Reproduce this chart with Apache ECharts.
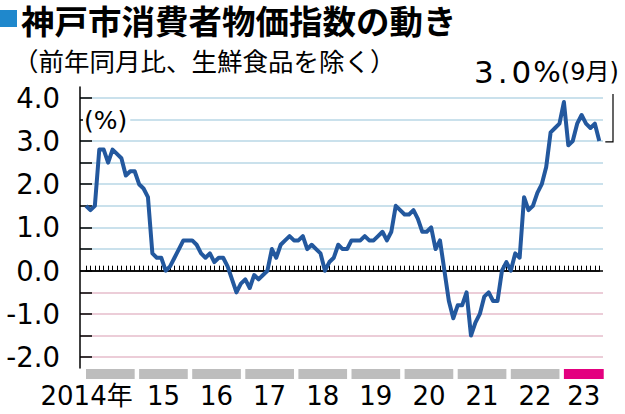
<!DOCTYPE html>
<html><head><meta charset="utf-8">
<script src="https://cdn.jsdelivr.net/npm/echarts/dist/echarts.min.js"></script>
<style>html,body{margin:0;padding:0;background:#fff}#c{width:625px;height:414px}</style>
</head><body><div id="c"></div>
<script>
// ---- data (core CPI, Kobe, % y/y, monthly) ----
const cpi2014 = [1.5,1.4,1.5,2.8,2.8,2.5,2.8,2.7,2.6,2.2,2.3,2.3];
const cpi2015 = [2.0,1.9,1.7,0.4,0.3,0.3,0.0,0.1,0.3,0.5,0.7,0.7];
const cpi2016 = [0.7,0.6,0.4,0.3,0.4,0.2,0.3,0.3,0.1,-0.2,-0.5,-0.3];
const cpi2017 = [-0.2,-0.4,-0.1,-0.2,-0.1,0.0,0.5,0.3,0.6,0.7,0.8,0.7];
const cpi2018 = [0.7,0.8,0.5,0.6,0.5,0.4,0.0,0.2,0.3,0.6,0.5,0.5];
const cpi2019 = [0.7,0.7,0.7,0.8,0.7,0.7,0.8,0.9,0.7,0.9,1.5,1.4];
const cpi2020 = [1.3,1.3,1.4,1.2,0.9,0.9,1.0,0.5,0.7,0.0,-0.7,-1.1];
const cpi2021 = [-0.8,-0.8,-0.5,-1.5,-1.2,-1.0,-0.6,-0.5,-0.7,-0.7,0.0,0.2];
const cpi2022 = [0.0,0.4,0.3,1.7,1.4,1.5,1.8,2.0,2.4,3.2,3.3,3.4];
const cpi2023 = [3.9,2.9,3.0,3.4,3.6,3.4,3.3,3.4,3.0];
const yearValues = [cpi2014,cpi2015,cpi2016,cpi2017,cpi2018,cpi2019,cpi2020,cpi2021,cpi2022,cpi2023];
const years = [2014,2015,2016,2017,2018,2019,2020,2021,2022,2023];
const yearLabels = ['2014年','15','16','17','18','19','20','21','22','23'];
const yLabelValues = [-2,-1,0,1,2,3,4];
const yTickValues = [-2,-1.5,-1,-0.5,0,0.5,1,1.5,2,2.5,3,3.5,4];
const titleText = '神戸市消費者物価指数の動き';
const subText = '（前年同月比、生鮮食品を除く）';
const unitText = '(%)';
const latestText = ['3','.','0','%','(9月)'];

// ---- derived ----
const cpi = [].concat(...yearValues);
const monthCats = [];
years.forEach((y, k) => yearValues[k].forEach((v, m) => monthCats.push(y + '-' + (m + 1))));
const N = cpi.length;
let acc = 0;
const yearBars = yearValues.map((arr, k) => {
  const s = acc; acc += arr.length;
  return [s, arr.length === 12 ? s + 11 : N, k];
});

const FONT_NUM = '"DejaVu Sans", "Noto Sans CJK JP", sans-serif';
const FONT_JP = '"Noto Sans CJK JP", sans-serif';
const GRID_TOP = 86.9, GRID_H = 281.1;
const blueGrid = '#b9d7e6', pinkGrid = '#e6bccb';
const splitColors = yTickValues.map(v => v < 0 ? pinkGrid : (v === 0 ? '#000' : blueGrid));

const chart = echarts.init(document.getElementById('c'), null, {renderer: 'svg'});
const tokenBase = {fontFamily: FONT_NUM, color: '#000', fontWeight: 'normal', lineHeight: 34, verticalAlign: 'middle'};
chart.setOption({
  animation: false,
  backgroundColor: '#fff',
  title: [
    {text: titleText, left: 21, top: 2, padding: 0,
     textStyle: {fontFamily: FONT_JP, fontSize: 33.5, fontWeight: 'bold', color: '#000', lineHeight: 34}},
    {text: subText, left: 13, top: 46, padding: 0,
     textStyle: {fontFamily: FONT_JP, fontSize: 25.5, fontWeight: 'normal', color: '#000', lineHeight: 26}},
    {text: unitText, left: 83, top: 107, padding: [0, 3, 0, 1], backgroundColor: '#fff',
     textStyle: {fontFamily: FONT_NUM, fontSize: 25, fontWeight: 'normal', color: '#000', lineHeight: 26}},
    {text: '{d|' + latestText[0] + '}{p|' + latestText[1] + '}{d|' + latestText[2] + '}{c|' + latestText[3] + '}{s|' + latestText[4] + '}',
     left: 472, top: 55, padding: 0,
     textStyle: {fontWeight: 'normal', fontFamily: FONT_NUM, rich: {
       d: Object.assign({}, tokenBase, {fontSize: 31, padding: [0, 2, 0, 2]}),
       p: Object.assign({}, tokenBase, {fontSize: 31, padding: [0, 2, 0, 2]}),
       c: Object.assign({}, tokenBase, {fontSize: 29}),
       s: Object.assign({}, tokenBase, {fontSize: 24, fontFamily: FONT_NUM})
     }}}
  ],
  grid: [
    {left: 80, right: 22, top: GRID_TOP, height: GRID_H},
    {left: 86, right: 25.7, top: GRID_TOP, height: GRID_H},
    {left: 86, right: 25.7, top: 369, height: 10}
  ],
  xAxis: [
    {gridIndex: 0, type: 'value', min: 0, max: 1, show: false},
    {gridIndex: 1, type: 'category', data: monthCats, boundaryGap: false,
     axisLine: {onZero: true, lineStyle: {color: '#000', width: 1.5}},
     axisTick: {show: true, inside: true, length: 5, interval: 0, lineStyle: {color: '#000', width: 1}},
     axisLabel: {show: false}, splitLine: {show: false}},
    {gridIndex: 2, type: 'value', min: 0, max: N - 1, show: false}
  ],
  yAxis: [
    {gridIndex: 0, type: 'value', min: -2.25, max: 4.25, offset: 12,
     axisLine: {show: true, lineStyle: {color: '#000', width: 1.5}},
     axisTick: {show: true, inside: true, length: 12, customValues: yTickValues, lineStyle: {color: '#000', width: 1.5}},
     axisLabel: {show: true, customValues: yLabelValues, formatter: v => v.toFixed(1),
       fontSize: 27.5, color: '#000', fontFamily: FONT_NUM, margin: 8},
     splitLine: {show: true, lineStyle: {color: splitColors, width: 1.5}}},
    {gridIndex: 1, type: 'value', min: -2.25, max: 4.25, show: false},
    {gridIndex: 2, type: 'value', min: 0, max: 1, show: false}
  ],
  series: [
    {type: 'custom', xAxisIndex: 2, yAxisIndex: 2, data: yearBars, silent: true,
     renderItem: function (params, api) {
       const s = api.coord([api.value(0), 1]);
       const e = api.coord([api.value(1), 0]);
       const idx = params.dataIndex;
       const isLast = idx === yearBars.length - 1;
       return {type: 'group', children: [
         {type: 'rect', shape: {x: s[0], y: s[1], width: e[0] - s[0], height: e[1] - s[1]},
          style: {fill: isLast ? '#e3007f' : '#bdbdbd'}},
         {type: 'text', style: {text: yearLabels[idx],
           x: idx === 0 ? e[0] - 2 : (s[0] + e[0]) / 2, y: e[1] + 17,
           align: idx === 0 ? 'right' : 'center', verticalAlign: 'middle',
           font: '26px ' + FONT_NUM, fill: '#000'}}
       ]};
     }},
    {type: 'line', xAxisIndex: 1, yAxisIndex: 1, data: cpi, symbol: 'none', silent: true,
     lineStyle: {color: '#23589e', width: 4, join: 'round'}, z: 5}
  ]
});

const p = chart.convertToPixel({xAxisIndex: 1, yAxisIndex: 1}, [N - 1, cpi[N - 1]]);
chart.setOption({
  graphic: [
    {type: 'rect', shape: {x: 0, y: 10, width: 17, height: 17}, style: {fill: '#1f88cc'}},
    {type: 'polyline', shape: {points: [[p[0] + 6, p[1] + 1], [613, p[1] + 1], [613, 94]]},
     style: {stroke: '#000', lineWidth: 1.2, fill: null}}
  ]
});
</script>
</body></html>
